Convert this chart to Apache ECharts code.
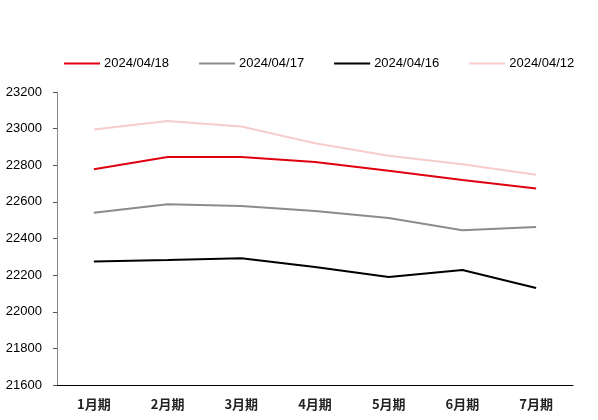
<!DOCTYPE html>
<html>
<head>
<meta charset="utf-8">
<script src="https://cdn.jsdelivr.net/npm/echarts@6/dist/echarts.min.js"></script>
<style>
  html, body { margin: 0; padding: 0; background: #fff; }
  #chart { width: 598px; height: 420px; }
</style>
</head>
<body>
<div id="chart"></div>
<script>
// 数据
const categories = ['1月期', '2月期', '3月期', '4月期', '5月期', '6月期', '7月期']
const seriesNames = ['2024/04/18', '2024/04/17', '2024/04/16', '2024/04/12']
const d0418 = [22778, 22845, 22845, 22818, 22770, 22720, 22673]
const d0417 = [22540, 22587, 22578, 22550, 22512, 22445, 22463]
const d0416 = [22275, 22283, 22292, 22245, 22190, 22228, 22130]
const d0412 = [22995, 23042, 23012, 22920, 22852, 22806, 22748]
const colors = ['#e0000f', '#8c8c8c', '#000000', '#f7cccc']

const chart = echarts.init(document.getElementById('chart'))

const allData = [d0418, d0417, d0416, d0412]

const option = {
  animation: false,
  textStyle: { fontFamily: '"Liberation Sans", "Noto Sans CJK SC", sans-serif' },
  legend: {
    top: 57,
    left: 64,
    padding: 0,
    icon: 'rect',
    itemWidth: 36,
    itemHeight: 2,
    itemGap: 30,
    textStyle: { fontSize: 13, color: '#000', padding: [0, 0, 0, -1] },
    data: seriesNames
  },
  grid: { left: 57, right: 25, top: 92, bottom: 35 },
  xAxis: {
    type: 'category',
    data: categories,
    boundaryGap: true,
    axisLine: { lineStyle: { color: '#000', width: 1 } },
    axisTick: { inside: true, length: 4, lineStyle: { color: '#555' } },
    axisLabel: {
      margin: 13,
      fontSize: 13,
      fontWeight: 'bold',
      color: '#222',
      fontFamily: '"Noto Sans CJK SC", sans-serif'
    }
  },
  yAxis: {
    type: 'value',
    min: 21600,
    max: 23200,
    interval: 200,
    axisLine: { show: true, lineStyle: { color: '#888', width: 1 } },
    axisTick: { show: true, length: 4, lineStyle: { color: '#555' } },
    splitLine: { show: false },
    axisLabel: { margin: 15, fontSize: 13, color: '#000', formatter: (v) => String(v) }
  },
  series: seriesNames.map((name, i) => ({
    name: name,
    type: 'line',
    data: allData[i],
    symbol: 'none',
    lineStyle: { color: colors[i], width: 2 },
    itemStyle: { color: colors[i] }
  }))
}

chart.setOption(option)
</script>
</body>
</html>
